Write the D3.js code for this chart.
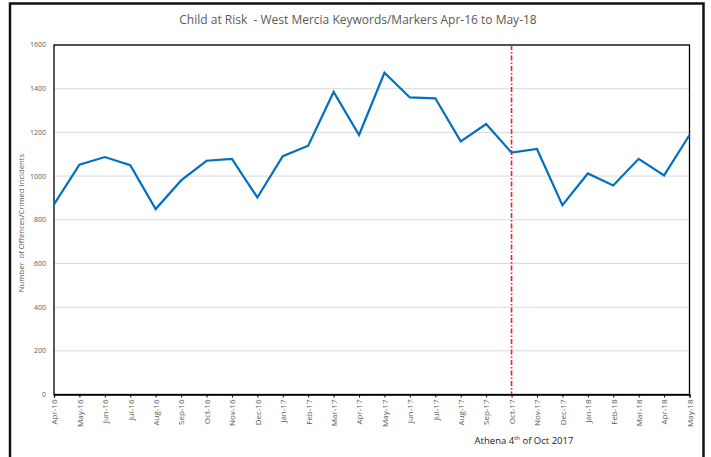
<!DOCTYPE html>
<html>
<head>
<meta charset="utf-8">
<script src="https://cdn.jsdelivr.net/npm/d3@7"></script>
<style>
  body { margin: 0; background: #fff; }
  text { font-family: "Open Sans", "Liberation Sans", sans-serif; }
</style>
</head>
<body>
<div id="chart"></div>
<script>
// Chart data
const months = ["Apr-16","May-16","Jun-16","Jul-16","Aug-16","Sep-16","Oct-16","Nov-16","Dec-16",
                "Jan-17","Feb-17","Mar-17","Apr-17","May-17","Jun-17","Jul-17","Aug-17","Sep-17",
                "Oct-17","Nov-17","Dec-17","Jan-18","Feb-18","Mar-18","Apr-18","May-18"];
const incidents = [870, 1052, 1087, 1050, 849, 980, 1070, 1079, 902,
                   1091, 1139, 1385, 1188, 1473, 1360, 1356, 1159, 1238,
                   1107, 1124, 867, 1012, 957, 1079, 1003, 1188];
const yTicks = [0, 200, 400, 600, 800, 1000, 1200, 1400, 1600];
const markerMonth = "Oct-17";

const config = {
  width  : 711,
  height : 457,
  lineColor : "#0070c0",
  textColor : "#595959"
};

const svg = d3.select("#chart")
  .append("svg")
    .attr("width", config.width)
    .attr("height", config.height);

// outer chart border (bottom runs off the picture)
svg.append("path")
  .attr("d", "M10,470 L10,3.5 L703.5,3.5 L703.5,470")
  .attr("fill", "none")
  .attr("stroke", "#111")
  .attr("stroke-width", 2.5);

const x = d3.scalePoint()
  .domain(months)
  .range([54, 689.5]);

const y = d3.scaleLinear()
  .domain([0, 1600])
  .range([394.5, 45]);

// gridlines
svg.append("g")
  .selectAll("line")
  .data(yTicks.slice(1))
  .enter()
  .append("line")
    .attr("x1", x.range()[0])
    .attr("x2", x.range()[1])
    .attr("y1", d => y(d))
    .attr("y2", d => y(d))
    .attr("stroke", "#d9d9d9")
    .attr("stroke-width", 1);

// y tick labels
svg.append("g")
  .selectAll("text")
  .data(yTicks)
  .enter()
  .append("text")
    .attr("x", 46)
    .attr("y", d => y(d))
    .attr("dy", "0.35em")
    .attr("text-anchor", "end")
    .attr("fill", config.textColor)
    .style("font-size", "7px")
    .text(d => d);

// plot frame
svg.append("rect")
  .attr("x", x.range()[0])
  .attr("y", y(1600))
  .attr("width", x.range()[1] - x.range()[0])
  .attr("height", y(0) - y(1600))
  .attr("fill", "none")
  .attr("stroke", "#000")
  .attr("stroke-width", 1.3);

// x axis
const xAxis = svg.append("g")
  .attr("transform", "translate(0," + y(0) + ")")
  .call(d3.axisBottom(x).tickSize(3).tickPadding(3));
xAxis.select(".domain").attr("stroke", "#000").attr("stroke-width", 1.3);
xAxis.selectAll(".tick line").attr("stroke", "#000");
xAxis.selectAll(".tick text")
  .attr("transform", "rotate(-90)")
  .attr("x", -5)
  .attr("y", 0)
  .attr("dy", "0.35em")
  .attr("text-anchor", "end")
  .attr("fill", config.textColor)
  .style("font-size", "8px")
  .style("font-family", "\"Open Sans\", sans-serif");

// series line
const line = d3.line()
  .x((d, i) => x(months[i]))
  .y(d => y(d));

svg.append("path")
  .datum(incidents)
  .attr("d", line)
  .attr("fill", "none")
  .attr("stroke", config.lineColor)
  .attr("stroke-width", 2.2)
  .attr("stroke-linejoin", "miter");

// Athena marker line (dash-dot, red)
svg.append("line")
  .attr("x1", x(markerMonth))
  .attr("x2", x(markerMonth))
  .attr("y1", y(1600))
  .attr("y2", y(0))
  .style("stroke", "#ff1a1a")
  .style("stroke-width", 1.6)
  .style("stroke-dasharray", "5,2,1.5,2");

// title
svg.append("text")
  .attr("x", 358)
  .attr("y", 24)
  .attr("text-anchor", "middle")
  .attr("fill", config.textColor)
  .attr("xml:space", "preserve")
  .style("font-size", "12px")
  .text("Child at Risk  - West Mercia Keywords/Markers Apr-16 to May-18");

// y axis title
svg.append("text")
  .attr("transform", "translate(24,223) rotate(-90)")
  .attr("text-anchor", "middle")
  .attr("fill", config.textColor)
  .attr("xml:space", "preserve")
  .style("font-size", "7.7px")
  .text("Number  of Offences/Crimed Incidents");

// marker label
const athena = svg.append("text")
  .attr("x", 524)
  .attr("y", 444)
  .attr("text-anchor", "middle")
  .attr("fill", "#222")
  .style("font-size", "9.5px");
athena.append("tspan").text("Athena 4");
athena.append("tspan").attr("dy", -4).style("font-size", "6px").text("th");
athena.append("tspan").attr("dy", 4).text(" of Oct 2017");
</script>
</body>
</html>
